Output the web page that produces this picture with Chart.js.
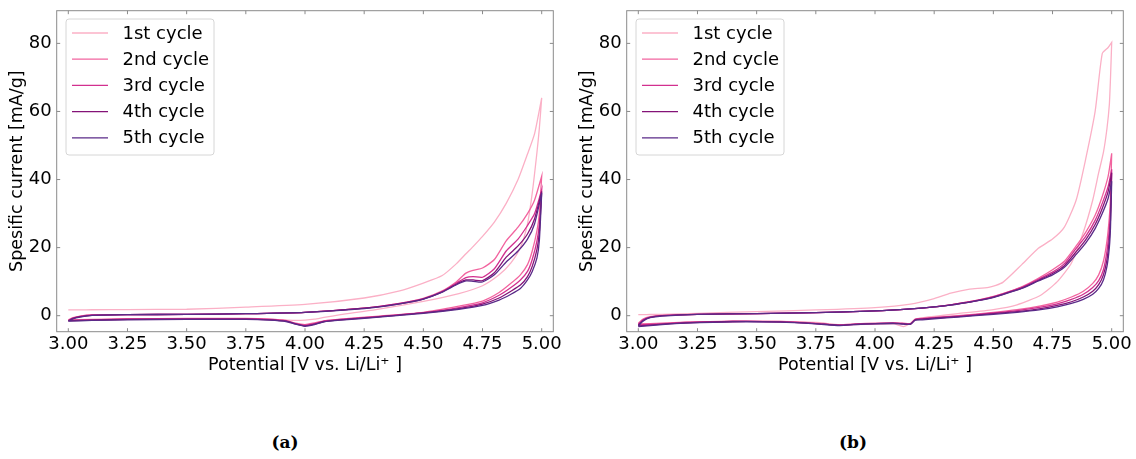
<!DOCTYPE html>
<html>
<head>
<meta charset="utf-8">
<script src="https://cdn.jsdelivr.net/npm/chart.js@4.4.1/dist/chart.umd.min.js"></script>
<style>
  body { margin: 0; background: #fff; }
  #wrap { position: relative; width: 1136px; height: 459px; }
  .panel { position: absolute; top: 0; }
  .cap { position: absolute; top: 432px; width: 60px; text-align: center;
         font: bold 17px "DejaVu Serif", serif; color: #000; }
</style>
</head>
<body>
<div id="wrap">
  <div class="panel" style="left:0px"><canvas id="chartA" width="568" height="400"></canvas></div>
  <div class="panel" style="left:570px"><canvas id="chartB" width="566" height="400"></canvas></div>
  <div class="cap" style="left:255px">(a)</div>
  <div class="cap" style="left:823px">(b)</div>
</div>
<script>
// cycle names + colours
var cycleNames = ['1st cycle', '2nd cycle', '3rd cycle', '4th cycle', '5th cycle'];
var cycleColors = ['#fbb0c6', '#f2649f', '#d2308f', '#841377', '#5a2a88'];
var xTickValues = [3.00, 3.25, 3.50, 3.75, 4.00, 4.25, 4.50, 4.75, 5.00];
var yTickValues = [0, 20, 40, 60, 80];

// (a) potentials, forward (anodic) and return scans
var voltsUpA = [3.00, 3.02, 3.05, 3.10, 3.25, 3.50, 3.75, 4.00, 4.25, 4.40, 4.50, 4.58, 4.64, 4.68, 4.71, 4.75, 4.80, 4.85, 4.90, 4.94, 4.97, 5.00];
var voltsDownA = [5.00, 4.99, 4.98, 4.96, 4.94, 4.91, 4.87, 4.82, 4.75, 4.65, 4.50, 4.30, 4.15, 4.08, 4.04, 4.00, 3.96, 3.92, 3.85, 3.75, 3.50, 3.25, 3.10, 3.00];

// (a) specific current [mA/g], one row per cycle
var currentUpA = [
  [1.7, 1.7, 1.7, 1.75, 1.8, 1.9, 2.5, 3.3, 5.2, 7.3, 9.6, 11.8, 15.3, 18.2, 20.3, 23.3, 27.5, 33.0, 40.0, 47.5, 53.5, 64.0],
  [-1.2, -0.6, -0.1, 0.2, 0.3, 0.4, 0.6, 1.0, 2.2, 3.6, 5.1, 7.3, 10.0, 12.5, 13.3, 14.0, 16.5, 22.0, 26.0, 30.0, 34.0, 41.0],
  [-1.4, -0.7, -0.2, 0.2, 0.3, 0.4, 0.6, 1.0, 2.2, 3.6, 5.0, 7.1, 9.6, 11.2, 11.5, 11.3, 13.8, 19.0, 22.5, 26.5, 30.0, 37.0],
  [-1.5, -0.8, -0.3, 0.1, 0.3, 0.4, 0.6, 1.0, 2.2, 3.5, 4.9, 7.0, 9.3, 10.5, 10.5, 10.3, 12.6, 17.2, 20.5, 24.0, 28.5, 36.5],
  [-1.6, -0.9, -0.4, 0.1, 0.3, 0.4, 0.6, 1.0, 2.1, 3.5, 4.9, 6.9, 9.1, 10.2, 10.1, 9.9, 12.0, 15.8, 19.0, 22.5, 27.0, 36.0]
];
var currentDownA = [
  [64.0, 55.0, 48.0, 36.0, 27.0, 20.0, 15.5, 12.0, 8.8, 6.5, 4.2, 1.8, 0.3, -0.5, -1.0, -1.3, -1.4, -1.3, -1.1, -1.0, -1.0, -1.1, -1.2, -1.3],
  [41.0, 30.0, 25.0, 19.0, 15.0, 12.0, 9.5, 6.8, 4.3, 2.8, 1.0, -0.2, -1.0, -1.5, -2.1, -2.6, -2.2, -1.4, -1.0, -0.8, -0.8, -0.9, -1.1, -1.2],
  [37.0, 27.0, 22.0, 16.5, 13.0, 10.5, 8.3, 6.0, 3.8, 2.4, 0.9, -0.3, -1.1, -1.6, -2.3, -2.8, -2.3, -1.5, -1.1, -0.9, -0.9, -1.0, -1.2, -1.4],
  [36.5, 24.5, 19.5, 14.5, 11.5, 9.0, 7.2, 5.2, 3.4, 2.1, 0.8, -0.4, -1.2, -1.7, -2.5, -3.0, -2.4, -1.6, -1.2, -1.0, -1.0, -1.1, -1.3, -1.5],
  [36.0, 22.0, 17.0, 13.0, 10.5, 8.0, 6.3, 4.6, 3.0, 1.9, 0.7, -0.5, -1.3, -1.8, -2.6, -3.1, -2.5, -1.7, -1.3, -1.1, -1.1, -1.2, -1.4, -1.6]
];

// (b)
var voltsUpB = [3.00, 3.02, 3.05, 3.10, 3.25, 3.50, 3.75, 4.00, 4.15, 4.25, 4.32, 4.40, 4.48, 4.54, 4.62, 4.69, 4.75, 4.80, 4.85, 4.89, 4.93, 4.96, 4.985, 5.00];
var voltsDownB = [5.00, 4.995, 4.99, 4.98, 4.965, 4.945, 4.92, 4.88, 4.83, 4.77, 4.70, 4.60, 4.50, 4.35, 4.25, 4.20, 4.17, 4.15, 4.12, 4.08, 4.00, 3.92, 3.85, 3.75, 3.60, 3.40, 3.20, 3.10, 3.00];

var currentUpB = [
  [0.3, 0.3, 0.35, 0.4, 0.7, 1.2, 1.7, 2.4, 3.4, 5.0, 6.6, 7.8, 8.3, 9.8, 15.0, 19.8, 22.5, 26.0, 34.0, 46.0, 60.0, 77.0, 78.8, 80.3],
  [-2.2, -1.0, -0.3, 0.1, 0.4, 0.6, 0.9, 1.4, 2.0, 2.6, 3.2, 4.1, 5.3, 6.5, 8.5, 11.0, 13.5, 16.0, 20.5, 24.5, 29.5, 35.0, 41.0, 47.7],
  [-2.5, -1.2, -0.4, 0.0, 0.4, 0.6, 0.9, 1.4, 2.0, 2.6, 3.2, 4.1, 5.2, 6.4, 8.3, 10.7, 12.8, 15.3, 19.8, 23.3, 28.0, 33.0, 38.0, 43.0],
  [-2.8, -1.4, -0.5, 0.0, 0.4, 0.6, 0.9, 1.4, 2.0, 2.6, 3.2, 4.0, 5.1, 6.3, 8.1, 10.4, 12.4, 14.7, 18.8, 22.3, 26.8, 31.5, 36.5, 42.0],
  [-3.0, -1.6, -0.6, -0.1, 0.4, 0.6, 0.9, 1.4, 2.0, 2.6, 3.1, 4.0, 5.0, 6.2, 8.0, 10.2, 12.0, 14.2, 18.0, 21.3, 25.6, 30.0, 34.5, 39.5]
];
var currentDownB = [
  [80.3, 70.0, 62.0, 55.0, 48.0, 42.0, 34.0, 24.5, 15.5, 10.0, 6.0, 3.2, 1.8, 0.6, -0.2, -0.6, -1.2, -2.2, -3.2, -2.4, -2.5, -2.6, -2.6, -2.0, -1.7, -1.7, -2.0, -2.3, -2.6],
  [47.7, 35.0, 29.0, 22.0, 16.0, 12.0, 9.5, 7.2, 5.5, 4.0, 2.9, 1.8, 1.0, 0.0, -0.5, -0.8, -1.0, -2.3, -2.2, -2.1, -2.2, -2.4, -2.7, -2.2, -1.7, -1.6, -1.9, -2.2, -2.4],
  [43.0, 31.0, 25.5, 19.0, 13.5, 10.3, 8.3, 6.3, 4.8, 3.5, 2.5, 1.5, 0.8, -0.1, -0.6, -0.9, -1.1, -2.4, -2.3, -2.2, -2.3, -2.5, -2.8, -2.3, -1.8, -1.7, -2.0, -2.4, -2.7],
  [42.0, 28.5, 22.5, 16.5, 12.0, 9.1, 7.2, 5.5, 4.1, 3.0, 2.1, 1.2, 0.6, -0.3, -0.7, -1.0, -1.2, -2.5, -2.4, -2.2, -2.3, -2.5, -2.8, -2.3, -1.8, -1.7, -2.1, -2.5, -3.0],
  [39.5, 26.0, 20.0, 14.5, 10.5, 8.0, 6.3, 4.8, 3.6, 2.6, 1.8, 1.0, 0.4, -0.4, -0.9, -1.2, -1.3, -2.5, -2.5, -2.3, -2.4, -2.6, -2.9, -2.4, -1.9, -1.8, -2.2, -2.6, -3.2]
];

Chart.defaults.font.family = '"DejaVu Sans", sans-serif';
Chart.defaults.color = '#000';

function buildDatasets(vUp, vDown, up, down) {
  return cycleNames.map(function (name, i) {
    var pts = vUp.map(function (v, j) { return { x: v, y: up[i][j] }; })
      .concat(vDown.map(function (v, j) { return { x: v, y: down[i][j] }; }));
    return {
      label: name,
      data: pts,
      showLine: true,
      borderColor: cycleColors[i],
      borderWidth: 1.3,
      pointRadius: 0,
      tension: 0.2,
      order: 5 - i
    };
  });
}

// frame, inward ticks on all sides, and the boxed legend
var framePlugin = {
  id: 'framePlugin',
  afterDatasetsDraw: function (chart) {
    var ctx = chart.ctx, a = chart.chartArea;
    var xs = chart.scales.x, ys = chart.scales.y;
    ctx.save();
    ctx.strokeStyle = '#8a8a8a';
    ctx.lineWidth = 1;
    ctx.strokeRect(a.left, a.top, a.right - a.left, a.bottom - a.top);
    ctx.beginPath();
    xTickValues.forEach(function (v) {
      var px = xs.getPixelForValue(v);
      ctx.moveTo(px, a.bottom); ctx.lineTo(px, a.bottom - 3.5);
      ctx.moveTo(px, a.top); ctx.lineTo(px, a.top + 3.5);
    });
    yTickValues.forEach(function (v) {
      var py = ys.getPixelForValue(v);
      ctx.moveTo(a.left, py); ctx.lineTo(a.left + 3.5, py);
      ctx.moveTo(a.right, py); ctx.lineTo(a.right - 3.5, py);
    });
    ctx.stroke();

    // legend
    var bx = a.left + 9.3, by = a.top + 8.3, bw = 148, bh = 136, r = 3;
    ctx.beginPath();
    ctx.moveTo(bx + r, by);
    ctx.arcTo(bx + bw, by, bx + bw, by + bh, r);
    ctx.arcTo(bx + bw, by + bh, bx, by + bh, r);
    ctx.arcTo(bx, by + bh, bx, by, r);
    ctx.arcTo(bx, by, bx + bw, by, r);
    ctx.closePath();
    ctx.fillStyle = 'rgba(255,255,255,0.8)';
    ctx.fill();
    ctx.strokeStyle = '#d6d6d6';
    ctx.stroke();

    ctx.font = '18px "DejaVu Sans", sans-serif';
    ctx.textBaseline = 'middle';
    ctx.fillStyle = '#000';
    cycleNames.forEach(function (name, i) {
      var yy = a.top + 22.3 + i * 26.2;
      ctx.beginPath();
      ctx.strokeStyle = cycleColors[i];
      ctx.lineWidth = 1.3;
      ctx.moveTo(a.left + 15.3, yy);
      ctx.lineTo(a.left + 51.3, yy);
      ctx.stroke();
      ctx.fillText(name, a.left + 65.8, yy + 1);
    });
    ctx.restore();
  }
};

function makeChart(id, canvasWidth, vUp, vDown, up, down) {
  return new Chart(document.getElementById(id), {
    type: 'scatter',
    data: { datasets: buildDatasets(vUp, vDown, up, down) },
    options: {
      responsive: false,
      animation: false,
      layout: { padding: { left: 0, top: 10.7, right: canvasWidth - 553.3, bottom: 0 } },
      plugins: { legend: { display: false }, tooltip: { enabled: false } },
      scales: {
        x: {
          type: 'linear',
          min: 2.951,
          max: 5.049,
          grid: { display: false, drawTicks: false },
          border: { display: false },
          ticks: {
            stepSize: 0.25,
            includeBounds: false,
            padding: 2,
            maxRotation: 0,
            font: { size: 18 },
            callback: function (v) { return Number(v).toFixed(2); }
          },
          title: {
            display: true,
            text: 'Potential [V vs. Li/Li\u207A ]',
            font: { size: 17.5 },
            padding: { top: 0, bottom: 24.5 }
          },
          afterFit: function (s) { s.height = 68.3; s.paddingLeft = 0; s.paddingRight = 0; }
        },
        y: {
          min: -4.7,
          max: 89.6,
          grid: { display: false, drawTicks: false },
          border: { display: false },
          ticks: {
            stepSize: 20,
            includeBounds: false,
            padding: 5,
            font: { size: 18 }
          },
          title: {
            display: true,
            text: 'Spesific current [mA/g]',
            font: { size: 17.5 },
            padding: { top: 6.5, bottom: 0 }
          },
          afterFit: function (s) { s.width = 56.7; s.paddingTop = 0; s.paddingBottom = 0; }
        }
      }
    },
    plugins: [framePlugin]
  });
}

makeChart('chartA', 568, voltsUpA, voltsDownA, currentUpA, currentDownA);
makeChart('chartB', 566, voltsUpB, voltsDownB, currentUpB, currentDownB);
</script>
</body>
</html>
